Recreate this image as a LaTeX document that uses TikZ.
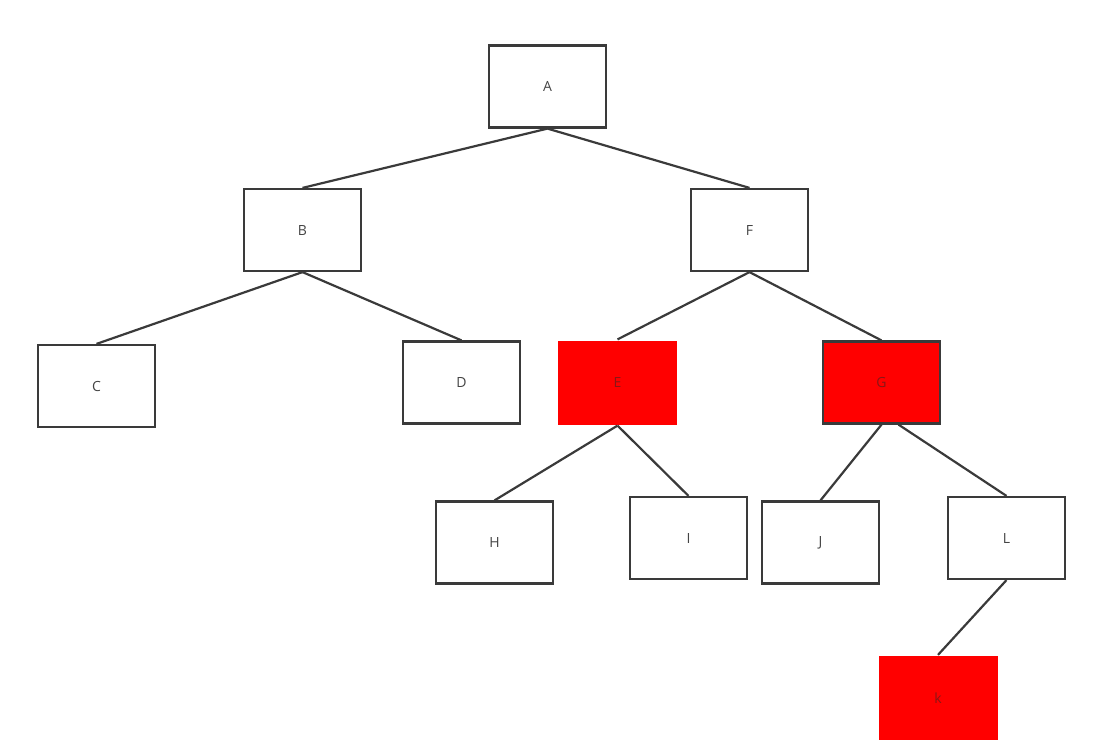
\documentclass[tikz,border=0pt]{standalone}
\usepackage{fontspec}
\setmainfont{Open Sans}
\begin{document}
\begin{tikzpicture}[x=1pt,y=-1pt,
  box/.style={draw=edgegray,line width=2.2pt,fill=white,minimum width=117pt,minimum height=82pt,inner sep=0pt,font=\fontsize{14}{16}\selectfont,text=textgray},
  redbox/.style={box,draw=none,fill=red,minimum width=119pt,minimum height=84pt,text=redtext},
  redboxb/.style={box,fill=red,text=redtext},
  link/.style={draw=edgegray,line width=2.2pt}]
\definecolor{edgegray}{HTML}{3A3A3A}
\definecolor{textgray}{HTML}{444444}
\definecolor{redtext}{HTML}{8A1616}
\useasboundingbox (0,0) rectangle (1093,742);
% tree nodes, placed at their centres
\node[box]     (A) at (547.5,86.5)  {A};
\node[box]     (B) at (302.5,230)   {B};
\node[box]     (F) at (749.5,230)   {F};
\node[box]     (C) at (96.5,386)    {C};
\node[box]     (D) at (461.5,382.5) {D};
\node[redbox]  (E) at (617.5,382.5) {E};
\node[redboxb] (G) at (881.5,382.5) {G};
\node[box]     (H) at (494.5,542.5) {H};
\node[box]     (I) at (688.5,538)   {I};
\node[box]     (J) at (820.5,542.5) {J};
\node[box]     (L) at (1006.5,538)  {L};
\node[redbox]  (k) at (938,698)     {k};
% parent-child links
\path[link] (A.south) -- (B.north);
\path[link] (A.south) -- (F.north);
\path[link] (B.south) -- (C.north);
\path[link] (B.south) -- (D.north);
\path[link] (F.south) -- (E.north);
\path[link] (F.south) -- (G.north);
\path[link] (E.south) -- (H.north);
\path[link] (E.south) -- (I.north);
\path[link] (G.south) -- (J.north);
\path[link] ([xshift=17pt]G.south) -- (L.north);
\path[link] (L.south) -- (k.north);
\end{tikzpicture}
\end{document}
